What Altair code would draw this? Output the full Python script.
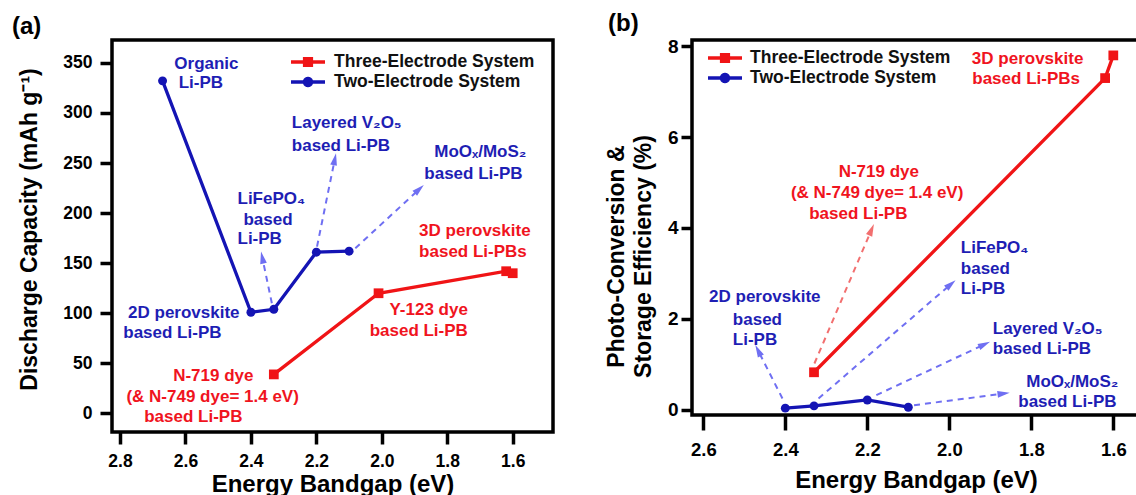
import math
import altair as alt
import pandas as pd

FONT = "Liberation Sans"
RED = "#f01416"
BLUE = "#1414b4"
RED_TXT = "#f0141e"
BLUE_TXT = "#1e1eb4"
ARROW_BLUE = "#6f6ff2"
ARROW_RED = "#f26f6f"
S3 = "Three-Electrode System"
S2 = "Two-Electrode System"

# ---------------- Panel (a) data ----------------
a_two_x = [2.67, 2.40, 2.33, 2.20, 2.10]
a_two_y = [332, 101, 104, 161, 162]
a_three_x = [2.33, 2.01, 1.62, 1.60]
a_three_y = [39, 120, 142, 140]

a_lab_text = ["Organic", "Li-PB", "LiFePO₄", "based", "Li-PB", "Layered V₂O₅", "based Li-PB",
              "MoOₓ/MoS₂", "based Li-PB", "2D perovskite", "based Li-PB", "3D perovskite",
              "based Li-PBs", "Y-123 dye", "based Li-PB", "N-719 dye", "(& N-749 dye= 1.4 eV)",
              "based Li-PB"]
a_lab_x = [2.536, 2.553, 2.441, 2.423, 2.441, 2.275, 2.275, 1.699, 1.720, 2.605, 2.640, 1.886,
           1.886, 1.737, 1.737, 2.515, 2.517, 2.576]
a_lab_y = [343.5, 324.5, 209.1, 188.1, 169.1, 284.6, 262.3, 256.3, 234.0, 95.3, 75.1, 177.4,
           156.5, 98.3, 77.3, 32.9, 11.8, -8.2]
a_lab_align = ["center", "center", "left", "left", "left", "left", "left", "center", "center",
               "center", "center", "left", "left", "right", "right", "center", "center", "center"]
a_lab_col = ["b", "b", "b", "b", "b", "b", "b", "b", "b", "b", "b", "r", "r", "r", "r", "r", "r", "r"]

a_arr_x1 = [2.336, 2.198, 2.081]
a_arr_y1 = [110, 166.5, 164.9]
a_arr_x2 = [2.369, 2.140, 1.872]
a_arr_y2 = [161.5, 259.7, 228.0]
a_arr_col = ["b", "b", "b"]

# ---------------- Panel (b) data ----------------
b_two_x = [2.40, 2.33, 2.20, 2.10]
b_two_y = [0.03, 0.08, 0.21, 0.05]
b_three_x = [2.33, 1.62, 1.60]
b_three_y = [0.82, 7.30, 7.80]

b_lab_text = ["N-719 dye", "(& N-749 dye= 1.4 eV)", "based Li-PB", "3D perovskite", "based Li-PBs",
              "LiFePO₄", "based", "Li-PB", "2D perovskite", "based", "Li-PB", "Layered V₂O₅",
              "based Li-PB", "MoOₓ/MoS₂", "based Li-PB"]
b_lab_x = [2.172, 2.176, 2.222, 1.945, 1.944, 1.972, 1.972, 1.972, 2.45, 2.528, 2.528, 1.894,
           1.894, 1.700, 1.712]
b_lab_y = [5.123, 4.668, 4.205, 7.618, 7.163, 3.457, 2.994, 2.554, 2.37, 1.87, 1.43, 1.673,
           1.218, 0.50, 0.05]
b_lab_align = ["center", "center", "center", "left", "left", "left", "left", "left", "center",
               "left", "left", "left", "left", "center", "center"]
b_lab_col = ["r", "r", "r", "r", "r", "b", "b", "b", "b", "b", "b", "b", "b", "b", "b"]

b_arr_x1 = [2.407, 2.329, 2.319, 2.178, 2.086]
b_arr_y1 = [0.242, 1.013, 0.242, 0.316, 0.095]
b_arr_x2 = [2.473, 2.184, 1.985, 1.901, 1.853]
b_arr_y2 = [1.417, 4.081, 2.848, 1.490, 0.367]
b_arr_col = ["b", "r", "b", "b", "b"]

TXT_COL = {"b": BLUE_TXT, "r": RED_TXT}
ARR_COL = {"b": ARROW_BLUE, "r": ARROW_RED}

SQ_PATH = ("M-1,-0.1L-0.3,-0.1L-0.3,-0.3L0.3,-0.3L0.3,-0.1L1,-0.1L1,0.1L0.3,0.1"
           "L0.3,0.3L-0.3,0.3L-0.3,0.1L-1,0.1Z")
CI_PATH = ("M-1,-0.1L-0.29,-0.1A0.305,0.305 0 0,1 0.29,-0.1L1,-0.1L1,0.1L0.29,0.1"
           "A0.305,0.305 0 0,1 -0.29,0.1L-1,0.1Z")
HEAD_PATH = "M0,-1L0.55,1L-0.55,1Z"


def series_df(x3, y3, x2, y2):
    rows = []
    for i, (x, y) in enumerate(zip(x3, y3)):
        rows.append({"x": x, "y": y, "series": S3, "idx": i})
    for i, (x, y) in enumerate(zip(x2, y2)):
        rows.append({"x": x, "y": y, "series": S2, "idx": i})
    return pd.DataFrame(rows)


def arrows_df(x1s, y1s, x2s, y2s, cols, xdom, ydom, W, H):
    def to_px(x, y):
        return ((x - xdom[0]) / (xdom[1] - xdom[0]) * W,
                H - (y - ydom[0]) / (ydom[1] - ydom[0]) * H)

    def to_data(px, py):
        return (xdom[0] + px / W * (xdom[1] - xdom[0]),
                ydom[0] + (H - py) / H * (ydom[1] - ydom[0]))

    rows = []
    for x1, y1, x2, y2, c in zip(x1s, y1s, x2s, y2s, cols):
        p1 = to_px(x1, y1)
        p2 = to_px(x2, y2)
        dx, dy = p2[0] - p1[0], p2[1] - p1[1]
        L = math.hypot(dx, dy)
        ux, uy = dx / L, dy / L
        hx, hy = to_data(p2[0] - ux * 6, p2[1] - uy * 6)
        ex, ey = to_data(p2[0] - ux * 9, p2[1] - uy * 9)
        ang = math.degrees(math.atan2(ux, -uy)) % 360
        rows.append({"x": x1, "y": y1, "xe": ex, "ye": ey, "hx": hx, "hy": hy,
                     "ang": ang, "col": ARR_COL[c]})
    return pd.DataFrame(rows)


def labels_df(texts, xs, ys, aligns, cols):
    return pd.DataFrame({"t": texts, "x": xs, "y": ys, "align": aligns,
                         "col": [TXT_COL[c] for c in cols]})


def panel(sdf, ldf, adf, xdom, ydom, W, H, xticks, yticks, xax_kw, yax_kw, legend_kw, title_kw):
    xs = alt.Scale(domain=xdom, nice=False, zero=False)
    ys = alt.Scale(domain=ydom, nice=False, zero=False)
    xax = alt.Axis(values=xticks, format=".1f", title="Energy Bandgap (eV)", grid=False,
                   domain=False, tickWidth=3.5, tickColor="black", labelFontWeight="bold",
                   labelColor="black", labelFont=FONT, titleFont=FONT, titleFontWeight="bold",
                   titleColor="black", titleBaseline="alphabetic", labelFlush=False,
                   labelOverlap=False, **xax_kw)
    yax = alt.Axis(values=yticks, grid=False, domain=False, tickWidth=3.5, tickColor="black",
                   labelFontWeight="bold", labelColor="black", labelFont=FONT, titleFont=FONT,
                   titleFontWeight="bold", titleColor="black", titleAngle=270,
                   titleAlign="center", titleBaseline="alphabetic", labelFlush=False,
                   labelOverlap=False, **yax_kw)
    X = lambda f: alt.X(f, scale=xs, axis=xax)
    Y = lambda f: alt.Y(f, scale=ys, axis=yax)
    cscale = alt.Scale(domain=[S3, S2], range=[RED, BLUE])
    legend = alt.Legend(
        title=None, orient="none", padding=0, clipHeight=18, rowPadding=2,
        symbolSize=1156, labelFont=FONT, labelFontSize=17.5, labelFontWeight="bold",
        labelColor="#111111", symbolStrokeWidth=0, symbolOpacity=1, labelLimit=400,
        **legend_kw)
    C = lambda: alt.Color("series:N", scale=cscale, legend=legend)

    base = alt.Chart(sdf)
    lines = base.mark_line(strokeWidth=3.3).encode(
        x=X("x:Q"), y=Y("y:Q"), color=C(), detail="series:N", order="idx:Q",
    )
    pts3 = base.transform_filter(alt.datum.series == S3).mark_point(
        filled=True, opacity=1, size=95, shape="square").encode(
        x=X("x:Q"), y=Y("y:Q"), color=C(),
    )
    pts2 = base.transform_filter(alt.datum.series == S2).mark_point(
        filled=True, opacity=1, size=80, shape="circle").encode(
        x=X("x:Q"), y=Y("y:Q"), color=C(),
    )
    # empty layer that only carries the legend shapes (line-with-marker symbols)
    leg = base.transform_filter("false").mark_point(filled=True, opacity=1).encode(
        x=X("x:Q"), y=Y("y:Q"), color=C(),
        shape=alt.Shape("series:N", scale=alt.Scale(domain=[S3, S2], range=[SQ_PATH, CI_PATH]),
                        legend=legend),
    )
    arr = alt.Chart(adf)
    rules = arr.mark_rule(strokeWidth=2, strokeDash=[6, 5]).encode(
        x=X("x:Q"), x2="xe:Q",
        y=Y("y:Q"), y2="ye:Q",
        color=alt.Color("col:N", scale=None),
    )
    heads = arr.mark_point(shape=HEAD_PATH, filled=True, size=150, opacity=1, strokeWidth=0).encode(
        x=X("hx:Q"), y=Y("hy:Q"),
        angle=alt.Angle("ang:Q", scale=None),
        color=alt.Color("col:N", scale=None),
    )
    layers = [rules, heads, lines, pts3, pts2, leg]
    for al in ["left", "center", "right"]:
        sub = ldf[ldf["align"] == al]
        if len(sub) == 0:
            continue
        layers.append(alt.Chart(sub).mark_text(
            align=al, baseline="alphabetic", font=FONT, fontSize=17, fontWeight="bold").encode(
            x=X("x:Q"), y=Y("y:Q"),
            text="t:N",
            color=alt.Color("col:N", scale=None),
        ))
    return alt.layer(*layers).properties(
        width=W, height=H,
        title=alt.TitleParams(anchor="start", frame="group", fontSize=24, fontWeight="bold",
                              font=FONT, color="black", baseline="alphabetic", offset=8,
                              **title_kw),
    )


A_W, A_H = 441, 392
A_XDOM = [2.8245, 1.4769]
A_YDOM = [-18.5, 372.8]
B_W, B_H = 448, 375
B_XDOM = [2.6276, 1.5349]
B_YDOM = [-0.121, 8.139]

chart_a = panel(
    series_df(a_three_x, a_three_y, a_two_x, a_two_y),
    labels_df(a_lab_text, a_lab_x, a_lab_y, a_lab_align, a_lab_col),
    arrows_df(a_arr_x1, a_arr_y1, a_arr_x2, a_arr_y2, a_arr_col, A_XDOM, A_YDOM, A_W, A_H),
    A_XDOM, A_YDOM, A_W, A_H,
    [2.8, 2.6, 2.4, 2.2, 2.0, 1.8, 1.6], [0, 50, 100, 150, 200, 250, 300, 350],
    dict(tickSize=12, labelFontSize=17.5, labelPadding=8, titleFontSize=24, titleY=59),
    dict(tickSize=12, labelFontSize=17.5, labelPadding=8, title="Discharge Capacity (mAh g⁻¹)",
         titleFontSize=23, titleX=-76, titleY=189),
    dict(legendX=179, legendY=13, labelOffset=9),
    dict(text="(a)", dx=-100, dy=26),
)

chart_b = panel(
    series_df(b_three_x, b_three_y, b_two_x, b_two_y),
    labels_df(b_lab_text, b_lab_x, b_lab_y, b_lab_align, b_lab_col),
    arrows_df(b_arr_x1, b_arr_y1, b_arr_x2, b_arr_y2, b_arr_col, B_XDOM, B_YDOM, B_W, B_H),
    B_XDOM, B_YDOM, B_W, B_H,
    [2.6, 2.4, 2.2, 2.0, 1.8, 1.6], [0, 2, 4, 6, 8],
    dict(tickSize=15, labelFontSize=18.5, labelPadding=10, titleFontSize=24, titleY=72),
    dict(tickSize=11, labelFontSize=19, labelPadding=3,
         title=["Photo-Conversion &", "Storage Efficiency (%)"], titleFontSize=23,
         titleLineHeight=27, titleX=-69, titleY=216),
    dict(legendX=16, legendY=9, labelOffset=8),
    dict(text="(b)", dx=-84, dy=26),
)

chart = alt.hconcat(chart_a, chart_b, spacing=139, bounds="flush").resolve_scale(
    shape="independent", color="independent", x="independent", y="independent"
).resolve_legend(color="independent", shape="independent").properties(
    autosize=alt.AutoSizeParams(type="none"),
    padding={"left": 112, "top": 40, "right": 1024, "bottom": 455},
    background="white",
).configure_view(stroke="black", strokeWidth=3.5)

chart.save("out.html", embed_options={"renderer": "svg", "actions": False})
